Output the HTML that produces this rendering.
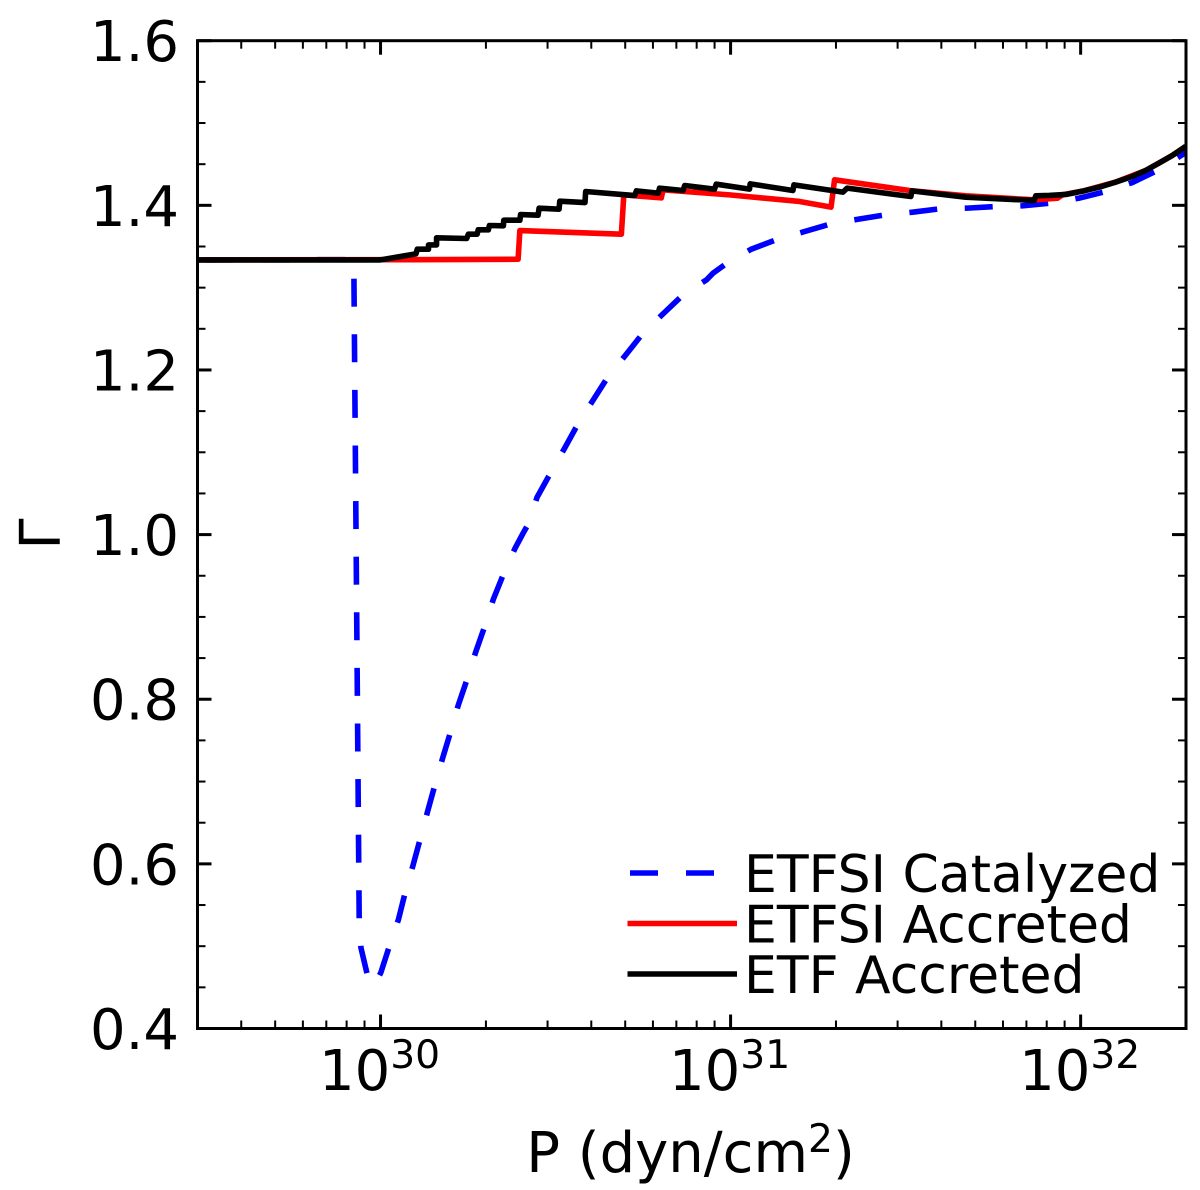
<!DOCTYPE html>
<html lang="en">
<head>
<meta charset="utf-8">
<title>Adiabatic index versus pressure</title>
<style>
html,body{margin:0;padding:0;background:#fff;}
svg{display:block;}
text{font-family:"DejaVu Sans","Liberation Sans",sans-serif;fill:#000;}
</style>
</head>
<body>
<svg id="chart" xmlns="http://www.w3.org/2000/svg" width="1200" height="1190" viewBox="0 0 1200 1190">
  <defs><clipPath id="plot-clip"><rect x="197.5" y="40.7" width="988.5" height="987.8"/></clipPath></defs>
  <rect x="0" y="0" width="1200" height="1190" fill="#fff"/>
  <g id="series" clip-path="url(#plot-clip)"></g>
  <g id="ticks"></g>
  <rect x="197.5" y="40.7" width="988.5" height="987.8" fill="none" stroke="#000" stroke-width="3"/>
  <g id="labels"></g>
  <text x="690.5" y="1172" text-anchor="middle" font-size="56">P (dyn/cm<tspan font-size="39.2" dy="-20">2</tspan><tspan dy="20">)</tspan></text>
  <text transform="translate(60,534) rotate(-90)" text-anchor="middle" font-size="56">Γ</text>
  <g>
    <line x1="630" y1="873" x2="714" y2="873" stroke="#0000ff" stroke-width="5.6" stroke-dasharray="28 28"/>
    <text x="744" y="892" font-size="52">ETFSI Catalyzed</text>
    <line x1="627.5" y1="923.5" x2="737" y2="923.5" stroke="#ff0000" stroke-width="5.6"/>
    <text x="744" y="942.5" font-size="52">ETFSI Accreted</text>
    <line x1="627.5" y1="974" x2="737" y2="974" stroke="#000" stroke-width="5.6"/>
    <text x="744" y="993" font-size="52">ETF Accreted</text>
  </g>
</svg>
<script>
// Axis limits and tick labels
const logPRange = [29.4771, 32.301];
const gammaRange = [0.4, 1.6];
const xTickExponents = [30, 31, 32];
const yTickLabels = ["0.4", "0.6", "0.8", "1.0", "1.2", "1.4", "1.6"];
const xMinorMultipliers = [2, 3, 4, 5, 6, 7, 8, 9];
const yMinorValues = [0.45, 0.5, 0.55, 0.65, 0.7, 0.75, 0.85, 0.9, 0.95, 1.05, 1.1, 1.15, 1.25, 1.3, 1.35, 1.45, 1.5, 1.55];

// ETFSI Catalyzed (log10 P, Gamma)
const catalyzedLogP = [29.478, 29.923, 29.924, 29.939, 29.944, 29.962, 29.981, 30.001, 30.025, 30.051, 30.070, 30.092, 30.113, 30.134, 30.155, 30.177, 30.200, 30.222, 30.248, 30.272, 30.298, 30.322, 30.352, 30.384, 30.407, 30.422, 30.447, 30.486, 30.524, 30.564, 30.605, 30.650, 30.698, 30.748, 30.804, 30.864, 30.931, 30.950, 30.992, 31.059, 31.135, 31.211, 31.287, 31.366, 31.442, 31.520, 31.596, 31.677, 31.753, 31.834, 31.915, 31.996, 32.072, 32.148, 32.219, 32.290, 32.310];
const catalyzedGamma = [1.3337, 1.334, 1.3115, 0.5322, 0.4981, 0.4657, 0.4511, 0.4681, 0.4997, 0.5322, 0.5645, 0.5970, 0.6298, 0.6630, 0.6954, 0.7279, 0.7602, 0.7927, 0.8252, 0.8575, 0.8891, 0.9212, 0.9528, 0.9832, 1.0015, 1.0128, 1.0452, 1.0751, 1.1036, 1.1344, 1.1619, 1.1919, 1.2170, 1.2438, 1.2669, 1.2912, 1.3094, 1.3176, 1.3305, 1.3467, 1.3589, 1.3681, 1.3775, 1.3832, 1.3885, 1.3917, 1.3957, 1.3966, 1.3985, 1.3994, 1.4027, 1.4088, 1.4168, 1.4277, 1.4423, 1.4614, 1.4663];

// ETFSI Accreted (log10 P, Gamma)
const etfsiLogP = [29.478, 30.089, 30.393, 30.398, 30.688, 30.695, 30.802, 30.807, 30.997, 31.197, 31.287, 31.297, 31.511, 31.672, 31.867, 31.934, 31.948, 32.005, 32.100, 32.186, 32.262, 32.300];
const etfsiGamma = [1.3337, 1.3340, 1.3345, 1.3694, 1.3649, 1.4127, 1.4091, 1.4188, 1.4127, 1.4047, 1.3978, 1.4310, 1.4180, 1.4116, 1.4067, 1.4087, 1.4128, 1.4172, 1.4282, 1.4424, 1.4606, 1.4715];

// ETF Accreted (log10 P, Gamma)
const etfLogP = [29.478, 29.9, 29.999, 30.046, 30.084, 30.101, 30.105, 30.137, 30.137, 30.160, 30.160, 30.246, 30.251, 30.276, 30.279, 30.308, 30.311, 30.351, 30.352, 30.398, 30.400, 30.450, 30.453, 30.510, 30.512, 30.584, 30.586, 30.726, 30.731, 30.793, 30.797, 30.864, 30.869, 30.954, 30.959, 31.054, 31.056, 31.178, 31.181, 31.321, 31.333, 31.515, 31.518, 31.672, 31.767, 31.867, 31.872, 31.910, 31.958, 32.005, 32.053, 32.100, 32.148, 32.186, 32.224, 32.262, 32.300];
const etfGamma = [1.3337, 1.3337, 1.3337, 1.3370, 1.3398, 1.3410, 1.3467, 1.3467, 1.3519, 1.3519, 1.3605, 1.3597, 1.3650, 1.3650, 1.3702, 1.3702, 1.3755, 1.3751, 1.3819, 1.3819, 1.3888, 1.3880, 1.3965, 1.3953, 1.4050, 1.4034, 1.4168, 1.4119, 1.4176, 1.4148, 1.4208, 1.4180, 1.4241, 1.4196, 1.4257, 1.4197, 1.4261, 1.4180, 1.4249, 1.4160, 1.4209, 1.4107, 1.4176, 1.4099, 1.4079, 1.4059, 1.4116, 1.4120, 1.4132, 1.4172, 1.4221, 1.4282, 1.4351, 1.4424, 1.4513, 1.4606, 1.4715];

const SVG_NS = "http://www.w3.org/2000/svg";
const plotLeft = 197.5, plotRight = 1186, plotTop = 40.7, plotBottom = 1028.5;

function xScale(logP) {
  return plotLeft + (logP - logPRange[0]) / (logPRange[1] - logPRange[0]) * (plotRight - plotLeft);
}
function yScale(gamma) {
  return plotBottom - (gamma - gammaRange[0]) / (gammaRange[1] - gammaRange[0]) * (plotBottom - plotTop);
}
function linePath(xs, ys) {
  return xs.map(function (v, i) {
    return (i ? "L" : "M") + xScale(v).toFixed(2) + " " + yScale(ys[i]).toFixed(2);
  }).join(" ");
}
function tickLine(parent, x1, y1, x2, y2, width) {
  const el = document.createElementNS(SVG_NS, "line");
  el.setAttribute("x1", x1);
  el.setAttribute("y1", y1);
  el.setAttribute("x2", x2);
  el.setAttribute("y2", y2);
  el.setAttribute("stroke", "#000");
  el.setAttribute("stroke-width", width);
  
  
  parent.appendChild(el);
}

const seriesGroup = document.getElementById("series");

const catalyzedLine = document.createElementNS(SVG_NS, "path");
catalyzedLine.setAttribute("d", linePath(catalyzedLogP, catalyzedGamma));
catalyzedLine.setAttribute("fill", "none");
catalyzedLine.setAttribute("stroke", "#0000ff");
catalyzedLine.setAttribute("stroke-width", "5.6");
catalyzedLine.setAttribute("stroke-dasharray", "28 27.6");
catalyzedLine.setAttribute("stroke-dashoffset", "-8");


seriesGroup.appendChild(catalyzedLine);

const etfsiLine = document.createElementNS(SVG_NS, "path");
etfsiLine.setAttribute("d", linePath(etfsiLogP, etfsiGamma));
etfsiLine.setAttribute("fill", "none");
etfsiLine.setAttribute("stroke", "#ff0000");
etfsiLine.setAttribute("stroke-width", "5.6");
etfsiLine.setAttribute("stroke-linejoin", "round");


seriesGroup.appendChild(etfsiLine);

const etfLine = document.createElementNS(SVG_NS, "path");
etfLine.setAttribute("d", linePath(etfLogP, etfGamma));
etfLine.setAttribute("fill", "none");
etfLine.setAttribute("stroke", "#000");
etfLine.setAttribute("stroke-width", "5.6");
etfLine.setAttribute("stroke-linejoin", "round");


seriesGroup.appendChild(etfLine);

const tickGroup = document.getElementById("ticks");
const labelGroup = document.getElementById("labels");

// X ticks, major and minor, on bottom and top
for (let d = 29; d <= 32; d++) {
  xMinorMultipliers.forEach(function (m) {
    const lx = d + Math.log10(m);
    if (lx < logPRange[0] || lx > logPRange[1]) return;
    const px = xScale(lx);
    tickLine(tickGroup, px, plotBottom, px, plotBottom - 8, 2);
    tickLine(tickGroup, px, plotTop, px, plotTop + 8, 2);
  });
}
xTickExponents.forEach(function (exp) {
  const px = xScale(exp);
  tickLine(tickGroup, px, plotBottom, px, plotBottom - 14, 3);
  tickLine(tickGroup, px, plotTop, px, plotTop + 14, 3);
  const label = document.createElementNS(SVG_NS, "text");
  label.setAttribute("x", px - 1);
  label.setAttribute("y", 1090);
  label.setAttribute("text-anchor", "middle");
  label.setAttribute("font-size", "56");
  
  
  const base = document.createElementNS(SVG_NS, "tspan");
  base.textContent = "10";
  const sup = document.createElementNS(SVG_NS, "tspan");
  sup.setAttribute("font-size", "39.2");
  sup.setAttribute("dy", "-22");
  sup.textContent = String(exp);
  label.appendChild(base);
  label.appendChild(sup);
  labelGroup.appendChild(label);
});

// Y ticks, major and minor, on left and right
yMinorValues.forEach(function (v) {
  const py = yScale(v);
  tickLine(tickGroup, plotLeft, py, plotLeft + 8, py, 2);
  tickLine(tickGroup, plotRight, py, plotRight - 8, py, 2);
});
yTickLabels.forEach(function (t) {
  const py = yScale(parseFloat(t));
  tickLine(tickGroup, plotLeft, py, plotLeft + 14, py, 3);
  tickLine(tickGroup, plotRight, py, plotRight - 14, py, 3);
  const label = document.createElementNS(SVG_NS, "text");
  label.setAttribute("x", 179);
  label.setAttribute("y", py + 20.5);
  label.setAttribute("text-anchor", "end");
  label.setAttribute("font-size", "56");
  
  
  label.textContent = t;
  labelGroup.appendChild(label);
});
</script>
</body>
</html>
